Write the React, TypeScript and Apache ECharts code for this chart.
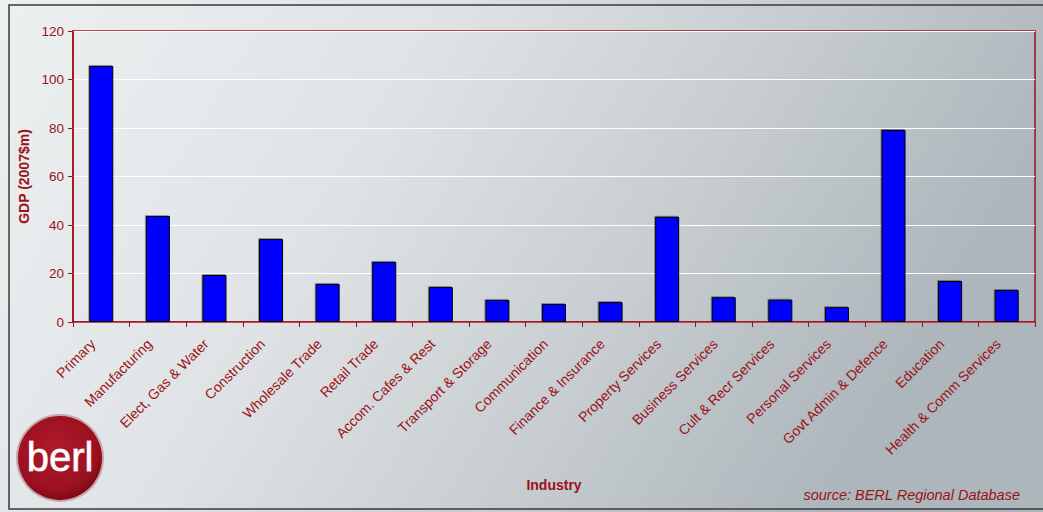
import React, { useEffect, useRef } from "react";
import * as echarts from "echarts";

const categories = [
  "Primary",
  "Manufacturing",
  "Elect, Gas & Water",
  "Construction",
  "Wholesale Trade",
  "Retail Trade",
  "Accom. Cafes & Rest",
  "Transport & Storage",
  "Communication",
  "Finance & Insurance",
  "Property Services",
  "Business Services",
  "Cult & Recr Services",
  "Personal Services",
  "Govt Admin & Defence",
  "Education",
  "Health & Comm Services",
];

const gdpValues = [105.6, 43.7, 19.4, 34.2, 15.7, 24.8, 14.4, 9.1, 7.4, 8.2, 43.4, 10.2, 9.2, 6.1, 79.2, 16.9, 13.2];

const yAxisTitle = "GDP (2007$m)";
const xAxisTitle = "Industry";
const sourceText = "source: BERL Regional Database";

const RED = "#9b1218";

export default function App() {
  const ref = useRef<HTMLDivElement>(null);

  useEffect(() => {
    if (!ref.current) return;
    const chart = echarts.init(ref.current, null, { renderer: "svg" });
    chart.setOption({
      animation: false,
      backgroundColor: {
        type: "linear",
        x: 0,
        y: 0,
        x2: 1,
        y2: 0.3,
        colorStops: [
          { offset: 0, color: "#edf0f1" },
          { offset: 0.4, color: "#e0e3e5" },
          { offset: 0.72, color: "#c6ccd0" },
          { offset: 1, color: "#adb6bb" },
        ],
      },
      textStyle: { fontFamily: "Liberation Sans, Arial, sans-serif" },
      grid: {
        left: 73,
        right: 8,
        top: 31,
        bottom: 190,
        show: true,
        borderColor: "#a01018",
        borderWidth: 1.5,
        backgroundColor: "transparent",
      },
      xAxis: {
        type: "category",
        data: categories,
        name: xAxisTitle,
        nameLocation: "middle",
        nameGap: 156,
        nameTextStyle: { color: RED, fontWeight: "bold", fontSize: 14 },
        axisLine: { lineStyle: { color: "#a01018", width: 1.5 } },
        axisTick: { show: true, length: 5, lineStyle: { color: "#a01018" } },
        axisLabel: {
          rotate: 45,
          interval: 0,
          color: RED,
          fontSize: 14,
          margin: 11,
          padding: [0, 12, 0, 0],
        },
      },
      yAxis: {
        type: "value",
        min: 0,
        max: 120,
        interval: 20,
        name: yAxisTitle,
        nameLocation: "middle",
        nameGap: 42,
        nameTextStyle: { color: RED, fontWeight: "bold", fontSize: 14 },
        axisLine: { show: true, lineStyle: { color: "#a01018", width: 1.5 } },
        axisTick: { show: true, length: 5, lineStyle: { color: "#a01018" } },
        axisLabel: { color: RED, fontSize: 13.5, margin: 9 },
        splitLine: { lineStyle: { color: "#ffffff", width: 1.2 } },
      },
      series: [
        {
          type: "bar",
          data: gdpValues,
          barWidth: 24,
          itemStyle: {
            color: "#0000ff",
            borderColor: "#000000",
            borderWidth: 1,
            shadowColor: "rgba(0,0,0,0.35)",
            shadowOffsetX: -1,
            shadowOffsetY: -1,
            shadowBlur: 1,
          },
        },
      ],
      graphic: [
        {
          type: "rect",
          shape: { x: 9, y: 5, width: 1040, height: 504 },
          style: { fill: "none", stroke: "#3a3a3a", lineWidth: 1.5 },
          silent: true,
        },
        {
          type: "circle",
          shape: { cx: 60, cy: 458, r: 43 },
          style: {
            fill: {
              type: "radial",
              x: 0.45,
              y: 0.4,
              r: 0.6,
              colorStops: [
                { offset: 0, color: "#b01a2a" },
                { offset: 0.8, color: "#9a1020" },
                { offset: 1, color: "#7a0816" },
              ],
            },
            stroke: "#c9a5aa",
            lineWidth: 2,
          },
          silent: true,
        },
        {
          type: "text",
          x: 60,
          y: 457,
          style: {
            text: "berl",
            fill: "#ffffff",
            stroke: "#e6b3bd",
            lineWidth: 1,
            font: "40px Liberation Sans, Arial, sans-serif",
            align: "center",
            verticalAlign: "middle",
          },
          silent: true,
        },
        {
          type: "text",
          x: 1020,
          y: 495,
          style: {
            text: sourceText,
            fill: RED,
            font: "italic 14.5px Liberation Sans, Arial, sans-serif",
            align: "right",
            verticalAlign: "middle",
          },
          silent: true,
        },
      ],
    });
    return () => chart.dispose();
  }, []);

  return (
    <div
      ref={ref}
      style={{ position: "absolute", left: 0, top: 0, width: 1043, height: 512 }}
    />
  );
}
